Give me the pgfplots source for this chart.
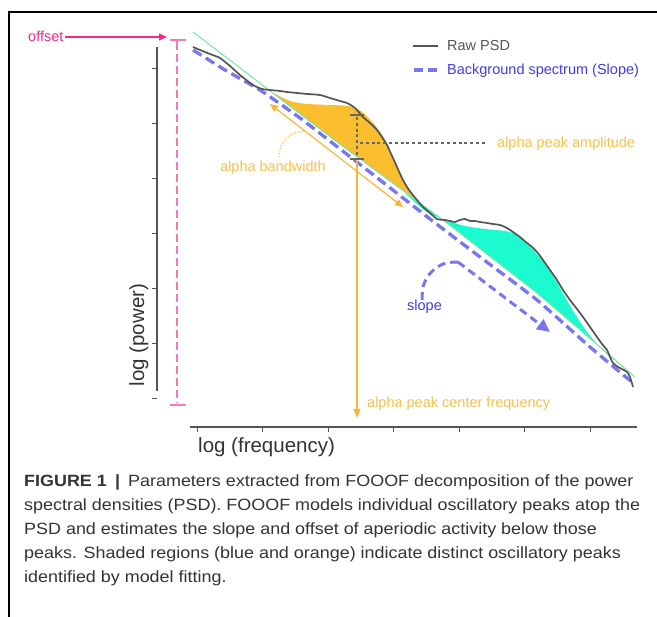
\documentclass[border=0pt]{standalone}
\usepackage{pgfplots}
\pgfplotsset{compat=1.18}
\usetikzlibrary{arrows.meta}
\usepackage{fontspec}
\setmainfont{Liberation Sans}
\newfontfamily\capfont{Liberation Sans}[FakeStretch=1.1]
\definecolor{pinkA}{HTML}{EC2B8C}
\definecolor{pinkB}{HTML}{F47BBB}
\definecolor{orF}{HTML}{FBBE2F}
\definecolor{orL}{HTML}{F4B73A}
\definecolor{orT}{HTML}{F5C04F}
\definecolor{cyF}{HTML}{1CFBCF}
\definecolor{grL}{HTML}{79E3A6}
\definecolor{blD}{HTML}{7777EE}
\definecolor{blT}{HTML}{3E3EE3}
\definecolor{psd}{HTML}{555555}
\definecolor{axc}{HTML}{555555}
\definecolor{ibar}{HTML}{666666}
\definecolor{capc}{HTML}{333333}
\begin{document}
\begin{tikzpicture}
\useasboundingbox (0,0) rectangle (657pt,617pt);
\begin{axis}[at={(0,0)}, anchor=south west, scale only axis,
  width=657pt, height=617pt, xmin=0, xmax=657, ymin=0, ymax=617,
  y dir=reverse, axis lines=none, clip=false, unbounded coords=jump]
% frame
\addplot[black, line width=1.2pt] coordinates {(657,12) (9,12) (9,617)};
% y spine and ticks
\addplot[axc, line width=2pt] coordinates {(157,47) (157,391)};
\addplot[axc, line width=0.9pt] coordinates {(152,68)(157,68)(152,nan)(152,123)(157,123)(152,nan)
  (152,178)(157,178)(152,nan)(152,233)(157,233)(152,nan)(152,288)(157,288)(152,nan)
  (152,343)(157,343)(152,nan)(152,398)(157,398)};
% x spine and ticks
\addplot[axc, line width=2pt] coordinates {(190,427) (637,427)};
\addplot[axc, line width=0.9pt] coordinates {(197,427)(197,432)(197,nan)(262.5,427)(262.5,432)(262.5,nan)
  (328,427)(328,432)(328,nan)(393.5,427)(393.5,432)(393.5,nan)(459,427)(459,432)(459,nan)
  (524.5,427)(524.5,432)(524.5,nan)(590,427)(590,432)};
% fills
\addplot[fill=orF, draw=none, smooth, tension=0.4] coordinates {
  (257,81) (270,91) (290,101) (307,104) (330,105) (348,106) (361,111) (375,125)
  (386,142) (396,165) (403,180) (413,197) (418,201.5) (337,142) (257,81)};
\addplot[fill=cyF, draw=none, smooth, tension=0.4] coordinates {
  (405,193) (418,205) (430,214) (445,220) (465,226) (485,229) (505,231) (515,234)
  (525,242) (535,252) (545,264) (555,279) (565,297) (575,314) (587,332) (598,345)
  (608,355) (612,357.5) (537,293) (443,220) (405,193)};
% aperiodic fit line
\addplot[grL, line width=1pt] coordinates {(193,32) (337,142) (443,220) (537,293) (635,377)};
% background spectrum (dashed)
\addplot[blD, line width=3.3pt, dash pattern=on 10pt off 5pt, smooth, tension=0.3] coordinates {
  (193,50) (225,70) (260,90) (300,118) (335,145) (380,180) (430,219) (480,257)
  (537,300) (590,347) (633,383)};
% raw PSD
\addplot[psd, line width=1.7pt, smooth, tension=0.4] coordinates {
  (193,47) (200,50) (210,54) (220,58) (230,66) (240,75) (253,85) (262,89) (270,90)
  (280,91) (287,92) (297,93) (307,94) (320,95) (330,98) (340,101) (347,103) (355,108)
  (363,117) (370,123) (377,130) (382,137) (387,145) (392,156) (397,167) (402,178)
  (407,187) (412,194) (417,200) (423,207) (430,213) (437,219) (445,220) (450,221)
  (455,222) (460,220) (465,219) (470,221) (475,221) (480,222) (487,223) (493,224)
  (500,225) (507,228) (513,232) (520,237) (527,243) (532,247) (537,252) (543,260)
  (550,270) (557,280) (563,290) (570,300) (577,309) (583,317) (590,327) (597,337)
  (602,344) (607,350) (610,357) (613,363) (618,367) (622,369) (627,372) (630,377) (633,387)};
% offset bar
\addplot[pinkB, line width=2.8pt, dash pattern=on 8pt off 4pt] coordinates {(177,42) (177,403)};
\addplot[pinkB, line width=2.8pt] coordinates {(170,40) (186,40)};
\addplot[pinkB, line width=2.8pt] coordinates {(170,405) (186,405)};
\addplot[pinkB, line width=2.8pt] coordinates {(177,40) (177,47)};
\addplot[pinkA, line width=1.3pt, -{Triangle[length=8pt,width=7pt]}] coordinates {(65,37) (167,37)};
% alpha bandwidth double arrow
\addplot[orL, line width=1.2pt, {Triangle[length=8pt,width=7pt]}-{Triangle[length=8pt,width=7pt]}] coordinates {(270,104) (403,207)};
\addplot[orL, line width=1pt, dash pattern=on 1.2pt off 1.6pt, smooth] coordinates {(279,157) (281,146) (287,138) (295,133) (304,131)};
% alpha peak center frequency arrow
\addplot[orL, line width=1.3pt, -{Triangle[length=9pt,width=7pt]}] coordinates {(357,159) (357,418)};
% amplitude I-bar
\addplot[ibar, line width=2.8pt, dash pattern=on 3pt off 2.8pt] coordinates {(357,117) (357,157)};
\addplot[ibar, line width=2.6pt] coordinates {(350,115) (364,115)};
\addplot[ibar, line width=2.6pt] coordinates {(350,159) (364,159)};
\addplot[ibar, line width=2.8pt, dash pattern=on 3pt off 2.8pt] coordinates {(360,143) (487,143)};
% slope arrow
\addplot[blD, line width=3pt, dash pattern=on 8pt off 5pt, smooth] coordinates {(422,300) (423,287) (428,276) (436,268) (446,263) (458,262)};
\addplot[blD, line width=3pt, dash pattern=on 8pt off 5pt, -{Triangle[length=13pt,width=12pt]}] coordinates {(458,262) (550,332)};
% legend
\addplot[psd, line width=2pt] coordinates {(413,46) (438,46)};
\addplot[blD, line width=3.3pt, dash pattern=on 9pt off 5pt] coordinates {(414,70) (440,70)};
\end{axis}
% text labels (pixel coordinates, y measured from top)
\node[anchor=base west, inner sep=0, text=pinkA, font=\fontsize{14.5}{17}\selectfont] at (28pt,{(617-42)*1pt}) {offset};
\node[anchor=base west, inner sep=0, text=psd, font=\fontsize{14.5}{17}\selectfont] at (447pt,{(617-51)*1pt}) {Raw PSD};
\node[anchor=base west, inner sep=0, text=blT, font=\fontsize{14.5}{17}\selectfont] at (447pt,{(617-75)*1pt}) {Background spectrum (Slope)};
\node[anchor=base west, inner sep=0, text=orT, font=\fontsize{14.5}{17}\selectfont] at (220pt,{(617-172)*1pt}) {alpha bandwidth};
\node[anchor=base west, inner sep=0, text=orT, font=\fontsize{14.5}{17}\selectfont] at (497pt,{(617-148)*1pt}) {alpha peak amplitude};
\node[anchor=base west, inner sep=0, text=orT, font=\fontsize{14.5}{17}\selectfont] at (367pt,{(617-408)*1pt}) {alpha peak center frequency};
\node[anchor=base west, inner sep=0, text=blT, font=\fontsize{14.5}{17}\selectfont] at (407pt,{(617-311)*1pt}) {slope};
\node[anchor=base west, inner sep=0, text=capc, font=\fontsize{20.5}{24}\selectfont] at (198pt,{(617-453)*1pt}) {log (frequency)};
\node[anchor=base, rotate=90, inner sep=0, text=capc, font=\fontsize{20.5}{24}\selectfont] at (144pt,{(617-335)*1pt}) {log (power)};
% caption
\begin{scope}[every node/.style={anchor=base west, inner sep=0, text=capc, font=\capfont\fontsize{16.3}{24}\selectfont}]
\node at (24pt,{(617-487)*1pt}) {\textbf{FIGURE 1}\enspace\textbf{|}\enspace Parameters extracted from FOOOF decomposition of the power};
\node at (24pt,{(617-511)*1pt}) {spectral densities (PSD). FOOOF models individual oscillatory peaks atop the};
\node at (24pt,{(617-535)*1pt}) {PSD and estimates the slope and offset of aperiodic activity below those};
\node at (24pt,{(617-559)*1pt}) {peaks. Shaded regions (blue and orange) indicate distinct oscillatory peaks};
\node at (24pt,{(617-583)*1pt}) {identified by model fitting.};
\end{scope}
\end{tikzpicture}
\end{document}
